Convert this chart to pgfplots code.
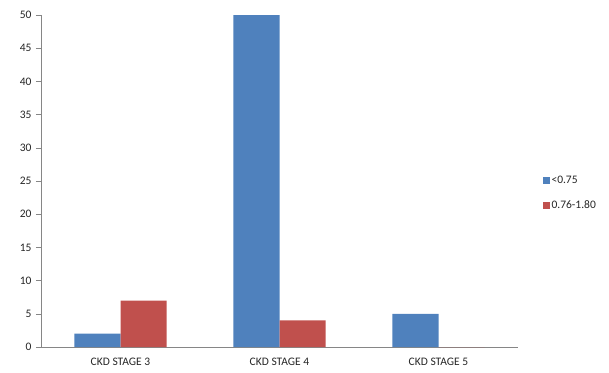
\documentclass[border=0pt]{standalone}
\usepackage{pgfplots}
\pgfplotsset{compat=1.18}
\usepackage{fontspec}
\setmainfont{Carlito}
\definecolor{xblue}{HTML}{4F81BD}
\definecolor{xred}{HTML}{C0504D}
\definecolor{axgray}{HTML}{868686}
\begin{document}
\begin{tikzpicture}[x=1pt,y=1pt]
\useasboundingbox (0,0) rectangle (609,372);
\begin{axis}[
  at={(41pt,25pt)}, anchor=south west,
  scale only axis, width=477pt, height=332pt,
  xmin=-0.5, xmax=2.5, ymin=0, ymax=50,
  axis x line*=bottom, axis y line*=left,
  axis line style={axgray, line width=0.6pt},
  ytick={0,5,...,50},
  xtick={0,1,2},
  xticklabels={CKD STAGE 3,CKD STAGE 4,CKD STAGE 5},
  extra x ticks={-0.5,0.5,1.5,2.5},
  extra x tick labels={},
  extra x tick style={major tick length=7pt, tick style={axgray, line width=0.6pt}, tick align=outside},
  x tick style={draw=none},
  y tick style={axgray, line width=0.6pt},
  tick align=outside, major tick length=5pt,
  ticklabel style={font=\fontsize{11.5}{13}\selectfont, text=black!85},
  /pgf/number format/assume math mode=true,
  xticklabel style={yshift=-3pt},
  yticklabel style={xshift=-1pt},
  ybar, bar width=0.29,
  legend style={at={(1.051,0.523)}, anchor=north west, draw=none, fill=none,
    font=\fontsize{11.5}{13}\selectfont, row sep=12pt, inner sep=0pt, text=black!85},
  legend cell align=left,
  legend image code/.code={\fill[#1] (-3pt,-3.5pt) rectangle (4pt,3.5pt);},
]
\addplot[fill=xblue, draw=none, bar shift=-0.145] coordinates {(0,2) (1,50) (2,5)};
\addplot[fill=xred, draw=none, bar shift=0.145] coordinates {(0,7) (1,4) (2,0)};
\legend{<0.75, 0.76-1.80}
\end{axis}
\end{tikzpicture}
\end{document}
